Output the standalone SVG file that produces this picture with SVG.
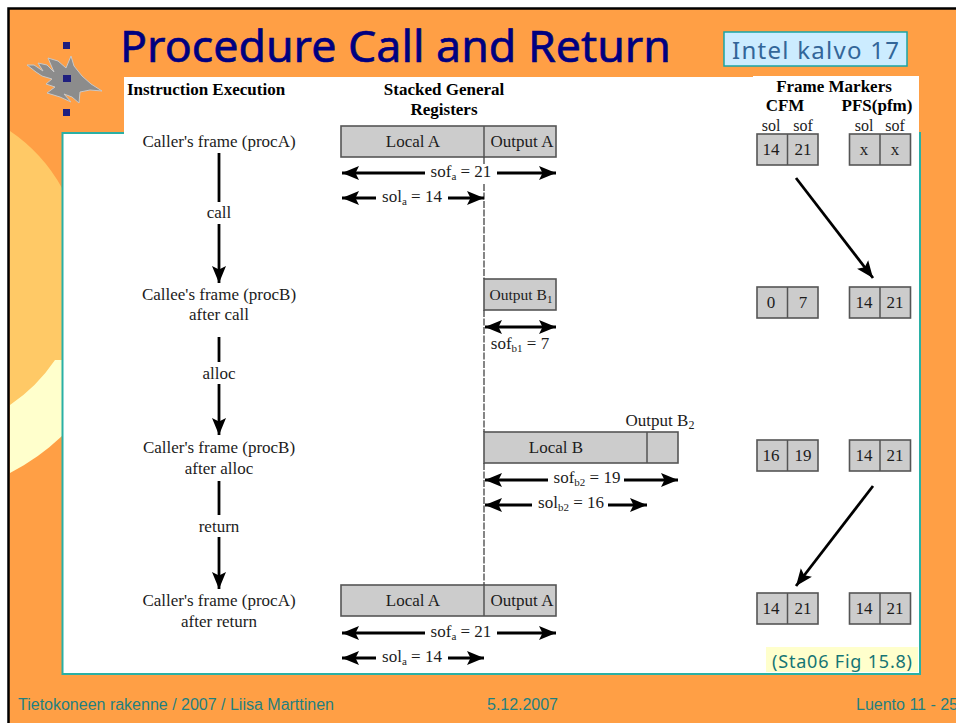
<svg xmlns="http://www.w3.org/2000/svg" width="956" height="723" viewBox="0 0 956 723">
<style>
text{font-family:"Liberation Serif","Times New Roman",serif;fill:#1c1c1c;font-size:17px;text-anchor:middle}
.h{font-weight:bold;fill:#000;font-size:17px}
.small{font-size:16px}
.foot{font-family:"Liberation Sans",Arial,sans-serif;fill:#1F8080;font-size:16px;text-anchor:start}
.box{fill:#CCCCCC;stroke:#555;stroke-width:1.600}
.ln{stroke:#000;stroke-width:2.800;fill:none}
.arr{marker-end:url(#a)}
.both{marker-start:url(#b);marker-end:url(#a)}
.st{marker-start:url(#b)}
.bullet{fill:#1F1F7F}
</style>
<defs>
<marker id="a" markerUnits="userSpaceOnUse" markerWidth="18" markerHeight="16" refX="17" refY="8" orient="auto"><path d="M0 1L17 8L0 15L3.500 8Z" fill="#000"/></marker>
<marker id="b" markerUnits="userSpaceOnUse" markerWidth="18" markerHeight="16" refX="0" refY="8" orient="auto"><path d="M17 1L0 8L17 15L13.500 8Z" fill="#000"/></marker>
</defs>
<rect width="956" height="723" fill="#fff"/>
<rect x="9" y="8" width="947" height="715" fill="#FF9F45"/>
<path d="M8.500 723V8.500H956" fill="none" stroke="#000" stroke-width="2.500"/>
<g id="background">
<path d="M10 280H62V436A224 224 0 0 1 10 473Z" fill="#FFFFCC"/>
<path d="M10 131A165.600 165.600 0 0 1 62 188V360H55A165.600 165.600 0 0 1 10 405Z" fill="#FFC966"/>
<rect x="62.500" y="133" width="857.500" height="541" fill="#fff" stroke="#2AB0A5" stroke-width="2"/>
<rect x="124" y="77" width="629" height="60" fill="#fff"/>
<rect x="753" y="76" width="166" height="60" fill="#fff"/>
</g>
<g id="logo">
<path d="M27 65L34 65L43 71L38 63L47 65L54 72L48 58L58 61L66 68L71 56L74 66L82 76L91 84L102 91L90 90L80 92L79 103L72 97L64 94L71 102L60 97L47 93L55 87L46 84L52 79L42 76L36 72Z" fill="#8C8C8C" stroke="#C8C8C8" stroke-width="1"/>
<rect class="bullet" x="63" y="42" width="7" height="7"/>
<rect class="bullet" x="63" y="75" width="8" height="7"/>
<rect class="bullet" x="63" y="109" width="7" height="7"/>
</g>
<g id="title"><text x="120" y="62" textLength="551" lengthAdjust="spacingAndGlyphs" style="font-family:'Noto Sans','Open Sans',sans-serif;font-size:44px;fill:#000080;stroke:#000080;stroke-width:.6px;text-anchor:start">Procedure Call and Return</text></g>
<g id="intel-note">
<rect x="724" y="32" width="183" height="34" fill="#CCECFF" stroke="#1AA5A5" stroke-width="1.500"/>
<text x="732" y="59" textLength="167" style="font-family:'Noto Sans','Open Sans',sans-serif;font-size:24px;fill:#336699;text-anchor:start">Intel kalvo 17</text>
</g>
<g id="headers">
<text class="h" x="206" y="95">Instruction Execution</text>
<text class="h" x="444" y="95">Stacked General</text>
<text class="h" x="444" y="115">Registers</text>
<text class="h" x="834" y="92">Frame Markers</text>
<text class="h" x="785" y="111">CFM</text>
<text class="h" x="877" y="111">PFS(pfm)</text>
<text class="small" x="771" y="131">sol</text><text class="small" x="803" y="131">sof</text>
<text class="small" x="864" y="131">sol</text><text class="small" x="895" y="131">sof</text>
</g>
<g id="instruction-labels">
<text x="219" y="147">Caller's frame (procA)</text>
<text x="219" y="218">call</text>
<text x="219" y="300">Callee's frame (procB)</text>
<text x="219" y="320">after call</text>
<text x="219" y="379">alloc</text>
<text x="219" y="453">Caller's frame (procB)</text>
<text x="219" y="474">after alloc</text>
<text x="219" y="532">return</text>
<text x="219" y="606">Caller's frame (procA)</text>
<text x="219" y="627">after return</text>
</g>
<g id="reg-a">
<rect class="box" x="341" y="126" width="215" height="31"/>
<path d="M484 126V157" stroke="#555" stroke-width="1.500"/>
<text x="413" y="147">Local A</text><text x="522" y="147" font-size="16.500">Output A</text>
</g>
<g id="reg-b1">
<rect class="box" x="484" y="279" width="72" height="31"/>
<text x="521" y="300" style="font-size:15.500px">Output B<tspan dy="3" font-size="11px">1</tspan></text>
</g>
<g id="reg-b2">
<rect class="box" x="484" y="432" width="194" height="31"/>
<path d="M647 432V463" stroke="#555" stroke-width="1.500"/>
<text x="556" y="453">Local B</text>
<text x="660" y="426">Output B<tspan dy="3" font-size="12px">2</tspan></text>
</g>
<g id="reg-a2">
<rect class="box" x="341" y="585" width="215" height="31"/>
<path d="M484 585V616" stroke="#555" stroke-width="1.500"/>
<text x="413" y="606">Local A</text><text x="522" y="606" font-size="16.500">Output A</text>
</g>
<g id="cells-row1">
<rect class="box" x="757" y="134" width="61" height="31"/><path d="M787.500 134V165" stroke="#555" stroke-width="1.500"/>
<rect class="box" x="849.500" y="134" width="61" height="31"/><path d="M880 134V165" stroke="#555" stroke-width="1.500"/>
<text x="771" y="155">14</text><text x="803" y="155">21</text><text x="864" y="155">x</text><text x="895" y="155">x</text>
</g>
<g id="cells-row2">
<rect class="box" x="757" y="287" width="61" height="31"/><path d="M787.500 287V318" stroke="#555" stroke-width="1.500"/>
<rect class="box" x="849.500" y="287" width="61" height="31"/><path d="M880 287V318" stroke="#555" stroke-width="1.500"/>
<text x="771" y="308">0</text><text x="803" y="308">7</text><text x="864" y="308">14</text><text x="895" y="308">21</text>
</g>
<g id="cells-row3">
<rect class="box" x="757" y="440" width="61" height="31"/><path d="M787.500 440V471" stroke="#555" stroke-width="1.500"/>
<rect class="box" x="849.500" y="440" width="61" height="31"/><path d="M880 440V471" stroke="#555" stroke-width="1.500"/>
<text x="771" y="461">16</text><text x="803" y="461">19</text><text x="864" y="461">14</text><text x="895" y="461">21</text>
</g>
<g id="cells-row4">
<rect class="box" x="757" y="593" width="61" height="31"/><path d="M787.500 593V624" stroke="#555" stroke-width="1.500"/>
<rect class="box" x="849.500" y="593" width="61" height="31"/><path d="M880 593V624" stroke="#555" stroke-width="1.500"/>
<text x="771" y="614">14</text><text x="803" y="614">21</text><text x="864" y="614">14</text><text x="895" y="614">21</text>
</g>
<g id="size-labels">
<text x="461" y="177">sof<tspan dy="3" font-size="11px">a</tspan><tspan dy="-3"> = 21</tspan></text>
<text x="412" y="202">sol<tspan dy="3" font-size="11px">a</tspan><tspan dy="-3"> = 14</tspan></text>
<text x="520" y="349">sof<tspan dy="3" font-size="11px">b1</tspan><tspan dy="-3"> = 7</tspan></text>
<text x="587" y="483">sof<tspan dy="3" font-size="11px">b2</tspan><tspan dy="-3"> = 19</tspan></text>
<text x="571" y="508">sol<tspan dy="3" font-size="11px">b2</tspan><tspan dy="-3"> = 16</tspan></text>
<text x="461" y="637">sof<tspan dy="3" font-size="11px">a</tspan><tspan dy="-3"> = 21</tspan></text>
<text x="412" y="662">sol<tspan dy="3" font-size="11px">a</tspan><tspan dy="-3"> = 14</tspan></text>
</g>
<g id="connectors">
<path d="M484 157V165M484 184V279M484 310V432M484 463V585" stroke="#444" stroke-width="1.300" stroke-dasharray="7 1.500" fill="none"/>
<path class="ln" d="M219 153V202"/><path class="ln arr" d="M219 224V283"/>
<path class="ln" d="M219 337V362"/><path class="ln arr" d="M219 384V435"/>
<path class="ln" d="M219 481V515"/><path class="ln arr" d="M219 537V589"/>
<path class="ln arr" d="M796 178L873 278"/>
<path class="ln arr" d="M873 486L796 586"/>
<path class="ln st" d="M342 173H425"/><path class="ln arr" d="M497 173H556"/>
<path class="ln st" d="M342 198H376"/><path class="ln arr" d="M448 198H484"/>
<path class="ln both" d="M485 327H556"/>
<path class="ln st" d="M485 480H548"/><path class="ln arr" d="M624 480H678"/>
<path class="ln st" d="M485 505H532"/><path class="ln arr" d="M608 505H647"/>
<path class="ln st" d="M342 633H425"/><path class="ln arr" d="M497 633H556"/>
<path class="ln st" d="M342 658H376"/><path class="ln arr" d="M448 658H484"/>
</g>
<g id="source-note">
<rect x="766" y="647" width="152" height="25" fill="#FFFFCC"/>
<text x="772" y="668" textLength="140" style="font-family:'Noto Sans','Open Sans',sans-serif;font-size:18px;fill:#157575;text-anchor:start">(Sta06 Fig 15.8)</text>
</g>
<g id="footer">
<text class="foot" x="18" y="710" textLength="316">Tietokoneen rakenne / 2007 / Liisa Marttinen</text>
<text class="foot" x="487" y="710" textLength="71">5.12.2007</text>
<text class="foot" x="856" y="710">Luento 11 - 25</text>
</g>
</svg>
